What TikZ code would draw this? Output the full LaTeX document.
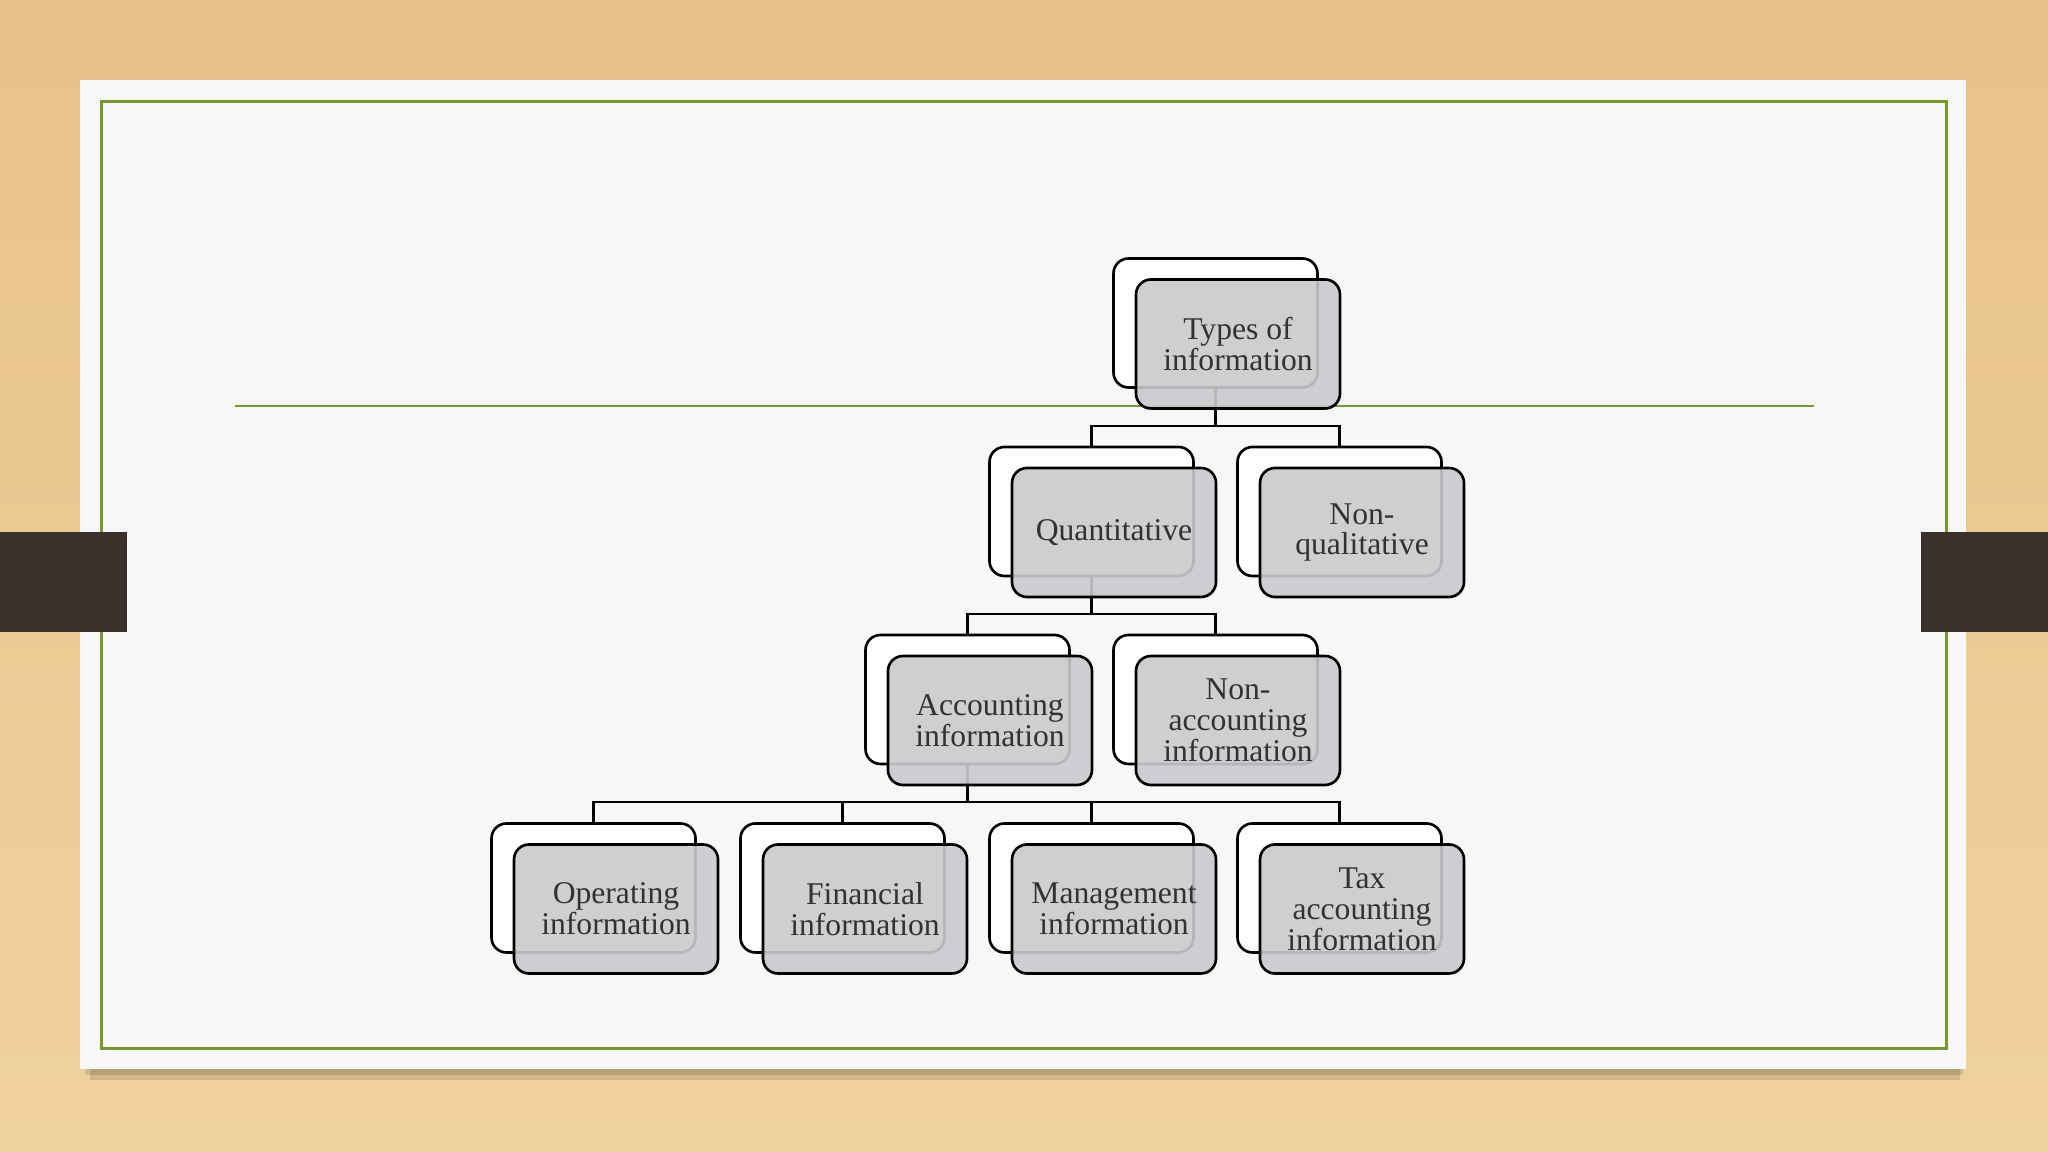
\documentclass[tikz,border=0pt]{standalone}
\usepackage{fontspec}
\setmainfont{Liberation Serif}
\usetikzlibrary{calc}

\definecolor{woodtop}{RGB}{232,193,138}
\definecolor{woodbot}{RGB}{240,210,158}
\definecolor{paper}{RGB}{247,247,249}
\definecolor{olive}{RGB}{122,152,42}
\definecolor{tabbrown}{RGB}{58,48,44}
\definecolor{boxgray}{RGB}{202,201,205}
\definecolor{textgray}{RGB}{50,50,50}

\begin{document}
\begin{tikzpicture}[
    backbox/.style={draw=black, line width=0.75pt, fill=white,
                    rounded corners=0.15cm, minimum width=2.04cm,
                    minimum height=1.29cm, inner sep=0pt},
    frontbox/.style={draw=black, line width=0.75pt, fill=boxgray,
                     fill opacity=0.9, text opacity=1,
                     rounded corners=0.15cm, minimum width=2.04cm,
                     minimum height=1.29cm, inner sep=0pt, align=center,
                     text=textgray, font=\fontsize{9}{8.8}\selectfont},
    link/.style={line width=0.6pt, black}
  ]
    % slide background
    \shade[top color=woodtop, bottom color=woodbot] (0, 0) rectangle (20.48, 11.52);
    \useasboundingbox (0, 0) rectangle (20.48, 11.52);
    \fill[black, opacity=0.12] (0.9, 0.72) rectangle (19.6, 0.83);
    \fill[black, opacity=0.12] (0.85, 0.77) rectangle (19.63, 0.83);
    \fill[paper] (0.80, 0.83) rectangle (19.66, 10.72);
    \draw[olive, line width=0.85pt] (1.017, 1.03) rectangle (19.46, 10.503);
    \draw[olive, line width=0.6pt] (2.35, 7.46) -- (18.14, 7.46);
    \fill[tabbrown] (0, 5.20) rectangle (1.27, 6.20);
    \fill[tabbrown] (19.21, 5.20) rectangle (20.48, 6.20);

    % box positions
    \coordinate (p-top) at (12.38, 8.08);
    \coordinate (p-quant) at (11.14, 6.195);
    \coordinate (p-nonqual) at (13.62, 6.195);
    \coordinate (p-acc) at (9.90, 4.315);
    \coordinate (p-nonacc) at (12.38, 4.315);
    \coordinate (p-oper) at (6.16, 2.43);
    \coordinate (p-fin) at (8.65, 2.43);
    \coordinate (p-mgmt) at (11.14, 2.43);
    \coordinate (p-tax) at (13.62, 2.43);

    \foreach \n in {top, quant, nonqual, acc, nonacc, oper, fin, mgmt, tax}
      \node[backbox] (\n-b) at ($(p-\n) + (-0.225, 0.21)$) {};

    \foreach \c/\p in {quant/top, nonqual/top, acc/quant, nonacc/quant,
                       oper/acc, fin/acc, mgmt/acc, tax/acc}
      \draw[link] (\c-b.north) -- ++(0, 0.2) -| (\p-b.south);

    \node[frontbox] (top) at (p-top) {Types of\\information};
    \node[frontbox] (quant) at (p-quant) {Quantitative};
    \node[frontbox] (nonqual) at (p-nonqual) {Non-\\qualitative};
    \node[frontbox] (acc) at (p-acc) {Accounting\\information};
    \node[frontbox] (nonacc) at (p-nonacc) {Non-\\accounting\\information};
    \node[frontbox] (oper) at (p-oper) {Operating\\information};
    \node[frontbox] (fin) at (p-fin) {Financial\\information};
    \node[frontbox] (mgmt) at (p-mgmt) {Management\\information};
    \node[frontbox] (tax) at (p-tax) {Tax\\accounting\\information};
  \end{tikzpicture}
\end{document}
